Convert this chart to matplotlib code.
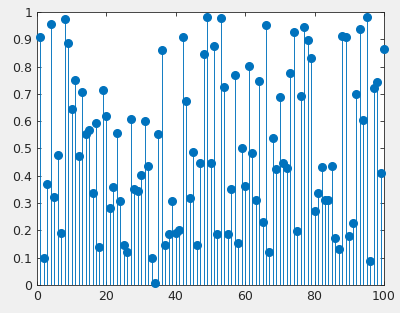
import matplotlib
matplotlib.use('Agg')
import matplotlib.pyplot as plt
import numpy as np

# values, index 1..100
values = [
    0.907, 0.098, 0.370, 0.955, 0.322, 0.476, 0.192, 0.974, 0.888, 0.643,
    0.751, 0.472, 0.706, 0.553, 0.568, 0.336, 0.592, 0.139, 0.714, 0.618,
    0.281, 0.359, 0.557, 0.309, 0.148, 0.122, 0.609, 0.352, 0.343, 0.403,
    0.601, 0.437, 0.098, 0.006, 0.554, 0.860, 0.145, 0.186, 0.309, 0.190,
    0.200, 0.910, 0.675, 0.320, 0.488, 0.148, 0.446, 0.845, 0.982, 0.448,
    0.877, 0.186, 0.977, 0.724, 0.186, 0.350, 0.768, 0.153, 0.503, 0.364,
    0.801, 0.484, 0.311, 0.748, 0.231, 0.951, 0.122, 0.537, 0.426, 0.690,
    0.448, 0.429, 0.775, 0.927, 0.198, 0.694, 0.945, 0.896, 0.832, 0.270,
    0.336, 0.433, 0.313, 0.313, 0.437, 0.172, 0.131, 0.913, 0.907, 0.179,
    0.228, 0.701, 0.938, 0.603, 0.982, 0.089, 0.720, 0.744, 0.409, 0.863,
]
x = np.arange(1, len(values) + 1)
xticks = [0, 20, 40, 60, 80, 100]
yticks = [0, 0.1, 0.2, 0.3, 0.4, 0.5, 0.6, 0.7, 0.8, 0.9, 1]

blue = '#0072BD'
txt = '#262626'

fig = plt.figure(figsize=(4, 3.13), dpi=100, facecolor='#f0f0f0')
ax = fig.add_axes([0.0925, 0.0895, 0.8675, 0.8722])

markers, stems, base = ax.stem(x, values, basefmt=' ')
plt.setp(stems, color=blue, linewidth=0.65)
plt.setp(markers, color=blue, markersize=5.5, markeredgecolor=blue,
         clip_on=False, zorder=3)

ax.set_xlim(0, 100)
ax.set_ylim(0, 1)
ax.set_xticks(xticks)
ax.set_yticks(yticks)
ax.set_yticklabels(['0', '0.1', '0.2', '0.3', '0.4', '0.5', '0.6', '0.7', '0.8', '0.9', '1'])
ax.tick_params(direction='in', top=True, right=True, length=3, width=0.6,
               colors=txt, labelsize=9, labelcolor=txt)
for s in ax.spines.values():
    s.set_color(txt)
    s.set_linewidth(0.6)

fig.savefig('out.png', dpi=100, facecolor=fig.get_facecolor())
